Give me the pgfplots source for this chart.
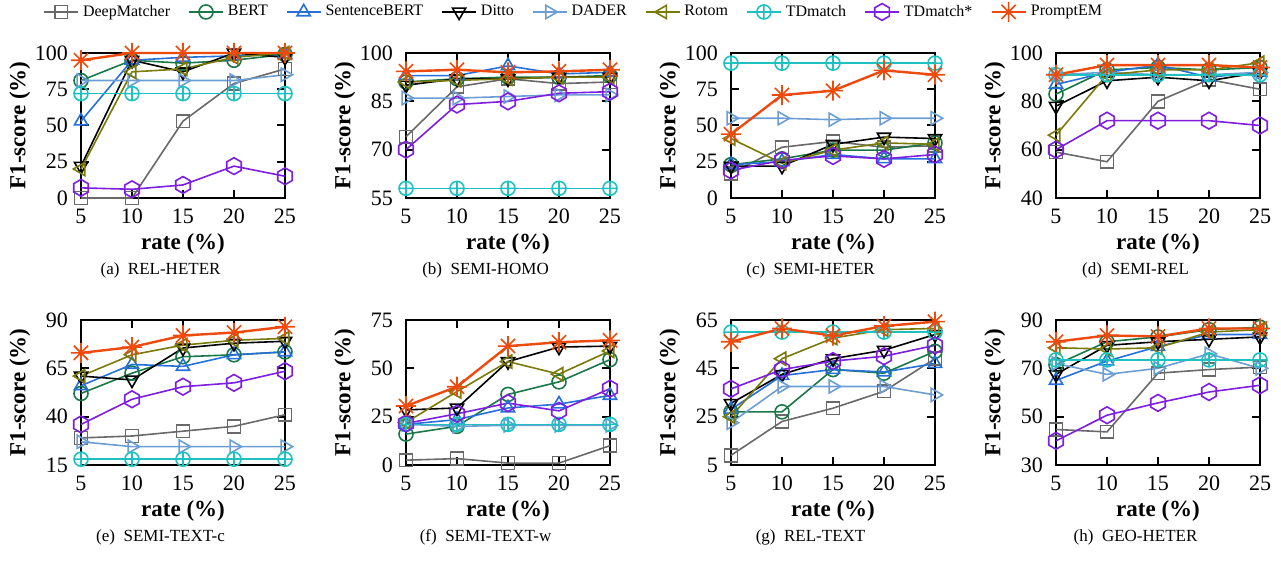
\documentclass[border=0pt]{standalone}
\usepackage{fontspec}
\setmainfont{Liberation Serif}
\usepackage{pgfplots}
\usepackage{pgfplotstable}
\pgfplotsset{compat=1.18}
\usepgfplotslibrary{groupplots}
\usetikzlibrary{plotmarks}

\definecolor{cdm}{RGB}{105,105,105}
\definecolor{cbert}{RGB}{26,120,72}
\definecolor{csbert}{RGB}{38,112,220}
\definecolor{cditto}{RGB}{0,0,0}
\definecolor{cdader}{RGB}{108,158,212}
\definecolor{crotom}{RGB}{122,122,10}
\definecolor{ctd}{RGB}{30,192,192}
\definecolor{ctds}{RGB}{125,30,224}
\definecolor{cpem}{RGB}{238,74,14}

% hexagon and 8-arm asterisk marks
\pgfdeclareplotmark{hexa}{%
  \pgfpathmoveto{\pgfqpointpolar{90}{\pgfplotmarksize}}%
  \pgfpathlineto{\pgfqpointpolar{150}{\pgfplotmarksize}}%
  \pgfpathlineto{\pgfqpointpolar{210}{\pgfplotmarksize}}%
  \pgfpathlineto{\pgfqpointpolar{270}{\pgfplotmarksize}}%
  \pgfpathlineto{\pgfqpointpolar{330}{\pgfplotmarksize}}%
  \pgfpathlineto{\pgfqpointpolar{30}{\pgfplotmarksize}}%
  \pgfpathclose\pgfusepathqstroke}
\pgfdeclareplotmark{ast8}{%
  \pgfpathmoveto{\pgfqpoint{0pt}{\pgfplotmarksize}}%
  \pgfpathlineto{\pgfqpoint{0pt}{-\pgfplotmarksize}}%
  \pgfpathmoveto{\pgfqpoint{\pgfplotmarksize}{0pt}}%
  \pgfpathlineto{\pgfqpoint{-\pgfplotmarksize}{0pt}}%
  \pgfpathmoveto{\pgfqpointpolar{45}{\pgfplotmarksize}}%
  \pgfpathlineto{\pgfqpointpolar{225}{\pgfplotmarksize}}%
  \pgfpathmoveto{\pgfqpointpolar{135}{\pgfplotmarksize}}%
  \pgfpathlineto{\pgfqpointpolar{315}{\pgfplotmarksize}}%
  \pgfusepathqstroke}

\pgfplotsset{
  dm/.style={color=cdm, line width=0.8pt, mark=square, mark size=3.2pt, mark options={solid}},
  bert/.style={color=cbert, line width=0.8pt, mark=o, mark size=3.5pt, mark options={solid}},
  sbert/.style={color=csbert, line width=0.8pt, mark=triangle, mark size=3.8pt, mark options={solid}},
  ditto/.style={color=cditto, line width=0.8pt, mark=triangle, mark size=3.8pt, mark options={solid,rotate=180}},
  dader/.style={color=cdader, line width=0.8pt, mark=triangle, mark size=3.8pt, mark options={solid,rotate=-90}},
  rotom/.style={color=crotom, line width=0.8pt, mark=triangle, mark size=3.8pt, mark options={solid,rotate=90}},
  td/.style={color=ctd, line width=0.8pt, mark=oplus, mark size=3.5pt, mark options={solid}},
  tds/.style={color=ctds, line width=0.8pt, mark=hexa, mark size=4.2pt, mark options={solid}},
  pem/.style={color=cpem, line width=1.2pt, mark=ast8, mark size=5pt, mark options={solid,line width=0.8pt}},
}

\newcommand\allplots[1]{%
  \addplot[dm] table[y=dm]{#1};
  \addplot[bert] table[y=bert]{#1};
  \addplot[sbert] table[y=sbert]{#1};
  \addplot[ditto] table[y=ditto]{#1};
  \addplot[dader] table[y=dader]{#1};
  \addplot[rotom] table[y=rotom]{#1};
  \addplot[td] table[y=td]{#1};
  \addplot[tds] table[y=tds]{#1};
  \addplot[pem] table[y=pem]{#1};
}

% (a) REL-HETER
\pgfplotstableread{
x  dm   bert sbert ditto dader rotom td tds pem
5  0    81   53    22    81    20    72 7   95
10 0    95   95    95    81    87    72 6   100
15 53   93   97    87    81    89    72 9   100
20 79   95   98    100   81    97    72 22  100
25 89   99   99    97    85    100   72 15  100
}\ta
% (b) SEMI-HOMO
\pgfplotstableread{
x  dm   bert sbert ditto dader rotom td tds  pem
5  74   91   93    90    86    91    58 70   94.3
10 89.5 92   93    92    86    91.5  58 84   94.8
15 92   92.5 96    92    86.5  92    58 85   94
20 90.5 92.5 93.5  92.5  87    92.5  58 87.5 94.3
25 91   93   94    92.5  87    92.5  58 88   94.8
}\tb
% (c) SEMI-HETER
\pgfplotstableread{
x  dm   bert sbert ditto dader rotom td tds pem
5  17   23   23    22    55    41    93 19  44
10 35   27   25    22    55    24    93 26  71
15 39   33   30    37    54    33    93 29  74
20 35   33   27    42    55    38    93 27  88
25 36   38   27    41    55    37    93 30  85
}\tc
% (d) SEMI-REL
\pgfplotstableread{
x  dm   bert sbert ditto dader rotom td tds pem
5  59   83   87    78    91    66    91 60  91
10 55   93   92    88.5  92    91    91 72  95
15 80   94   95    90    91    93    91 72  95
20 89   93   90    88.5  91    93    91 72  95
25 85   94   92    92    92    96    91 70  94
}\td
% (e) SEMI-TEXT-c
\pgfplotstableread{
x  dm   bert sbert ditto dader rotom td tds  pem
5  29   52   56    61    27    61    18 36   73
10 30   62.5 67    59    24.5  72    18 49   76
15 32.5 71   66    75.5  24.5  77    18 55.5 82
20 35   72   72    78    24.5  79.5  18 57.5 83.5
25 41   73.5 73.5  79    24.5  80.5  18 63.5 86.5
}\te
% (f) SEMI-TEXT-w
\pgfplotstableread{
x  dm   bert sbert ditto dader rotom td tds  pem
5  2.5  16   21    28.5  21    22    21 21.5 30.5
10 3.3  20   23.5  29.5  20    38    21 26.5 40.5
15 1    36.5 29.5  53.5  20.5  53.5  21 32   61.5
20 1    43   31.5  61    20.5  47    21 28   63.5
25 10   54.5 36    61.5  20.5  59    21 39.5 64.5
}\tf
% (g) REL-TEXT
\pgfplotstableread{
x  dm   bert sbert ditto dader rotom td tds  pem
5  9    27   28    30.5  22.5  25    60 36.5 56
10 23   27   42    42.5  37.5  49    60 44.5 61.5
15 28.5 44.5 44.5  49    37.5  57.5  60 48   58.5
20 35.5 43   43.5  52.5  37.5  61    60 50   62.5
25 49   52   47    59    34    61.5  60 54.5 64.3
}\tg
% (h) GEO-HETER
\pgfplotstableread{
x  dm   bert sbert ditto dader rotom td   tds  pem
5  44.7 71.5 65    67.5  72    78.5  73.5 40   81
10 43.7 81   73    79.5  67.5  78    73.5 50.6 83.6
15 68   83   79    81    70    78.5  73.5 55.7 83.2
20 69.5 86   84    82    76    85    73.5 60.2 86.5
25 70.5 87   84    83    70    86    73.5 63   86.5
}\th

\begin{document}
\begin{tikzpicture}
\begin{groupplot}[
  group style={group size=4 by 2, horizontal sep=60.5pt, vertical sep=61pt},
  scale only axis, width=102pt, height=72.5pt,
  xmin=5, xmax=25, xtick={5,10,15,20,25},
  clip=false,
  axis line style={line width=1.2pt},
  tick style={line width=1pt, black},
  major tick length=4pt,
  tick align=inside, tick pos=both,
  /pgf/number format/assume math mode=true,
  tick label style={font=\fontsize{11}{13}\selectfont},
  yticklabel style={xshift=-3pt},
  xticklabel style={yshift=-2pt},
  label style={font=\fontsize{11.5}{14}\selectfont\bfseries},
  xlabel={rate (\%)}, ylabel={F1-score (\%)},
  x label style={at={(axis description cs:0.5,-0.32)}, anchor=center},
  y label style={at={(axis description cs:-0.3,0.5)}, anchor=center},
  title style={at={(axis description cs:0.39,-0.58)}, anchor=center, font=\fontsize{8.5}{10}\selectfont},
]
\nextgroupplot[ymin=0, ymax=100, ytick={0,25,50,75,100}, title={(a)\enspace REL-HETER},
  legend entries={DeepMatcher,BERT,SentenceBERT,Ditto,DADER,Rotom,TDmatch,TDmatch*,PromptEM},
  legend style={at={(2.42,1.283)}, anchor=center, legend columns=9, draw=none, fill=none,
    font=\fontsize{8}{10}\selectfont, /tikz/every even column/.append style={column sep=7pt}}]
\allplots{\ta}
\nextgroupplot[ymin=55, ymax=100, ytick={55,70,85,100}, title={(b)\enspace SEMI-HOMO}]
\allplots{\tb}
\nextgroupplot[ymin=0, ymax=100, ytick={0,25,50,75,100}, title={(c)\enspace SEMI-HETER}]
\allplots{\tc}
\nextgroupplot[ymin=40, ymax=100, ytick={40,60,80,100}, title={(d)\enspace SEMI-REL}]
\allplots{\td}
\nextgroupplot[ymin=15, ymax=90, ytick={15,40,65,90}, title={(e)\enspace SEMI-TEXT-c}]
\allplots{\te}
\nextgroupplot[ymin=0, ymax=75, ytick={0,25,50,75}, title={(f)\enspace SEMI-TEXT-w}]
\allplots{\tf}
\nextgroupplot[ymin=5, ymax=65, ytick={5,25,45,65}, title={(g)\enspace REL-TEXT}]
\allplots{\tg}
\nextgroupplot[ymin=30, ymax=90, ytick={30,50,70,90}, title={(h)\enspace GEO-HETER}]
\allplots{\th}
\end{groupplot}
\pgfresetboundingbox
\path[use as bounding box] ([shift={(-40.5pt,-182pt)}]group c1r1.south west)
  rectangle ([shift={(600pt,99pt)}]group c1r1.south west);
\end{tikzpicture}
\end{document}
